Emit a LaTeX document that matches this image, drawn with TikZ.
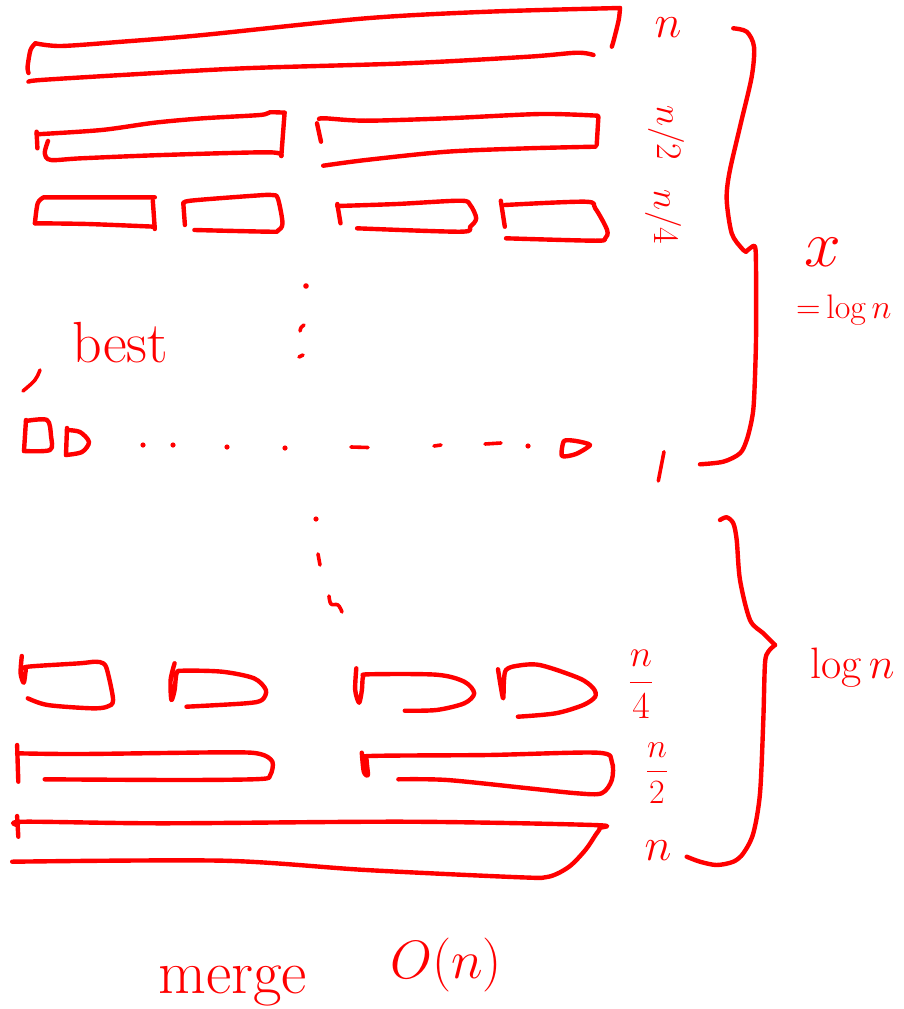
\RequirePackage{fix-cm}
\documentclass[tikz,border=0pt]{standalone}
\usepackage{amsmath}
\usepackage{fontspec}
\begin{document}
\begin{tikzpicture}[x=1pt,y=-1pt,
  ink/.style={draw=red, line width=4.4pt, line cap=round, line join=round},
  thin ink/.style={ink, line width=3.6pt},
  lbl/.style={text=red, inner sep=0pt},
  dotmark/.style={fill=red}]
\useasboundingbox (0,0) rectangle (904,1009);
\clip (0,0) rectangle (904,1009);

% ---------------- top half: splitting ----------------
% level n
\draw[ink] plot[smooth,tension=.5] coordinates {(28.5,73) (27.6,66.7) (30.5,50) (35.4,43.3)};
\draw[ink] plot[smooth,tension=.5] coordinates {(35.4,43.3) (61,46) (122,41.7) (203,35) (366,18.3) (488,11.7) (620,8)};
\draw[ink] plot[smooth,tension=.5] coordinates {(620,8) (618.7,20) (613.8,40) (611.8,46.7)};
\draw[ink] plot[smooth,tension=.5] coordinates {(593.5,55) (577,52.7) (528.5,56.7) (406.5,63.3) (244,68.3) (122,75) (40.7,80) (28.5,81.7)};

% level n/2, left
\draw[ink] (36.6,131.7) -- (37.4,148.3);
\draw[ink] plot[smooth,tension=.5] coordinates {(36.6,134.3) (101.6,130) (154.5,122.7) (203,118.3) (260,115) (270,112.3) (284.6,112.7)};
\draw[ink] (284.6,112.7) -- (281.3,156);
\draw[ink] plot[smooth,tension=.5] coordinates {(281.3,156) (268.3,152.3) (162.6,155) (81.3,158.3) (50.8,160) (44.7,153.3) (48,141)};
% level n/2, right
\draw[ink] (317,123.3) -- (321,141.7);
\draw[ink] plot[smooth,tension=.5] coordinates {(319,119) (325,118.3) (365.9,120.7) (447,118.3) (540.7,114) (597.6,115.7)};
\draw[ink] (598.4,116.7) -- (596.7,145);
\draw[ink] plot[smooth,tension=.5] coordinates {(595.5,146.7) (528.5,148.3) (447,151.7) (365.9,160) (323.2,165.7)};

% level n/4
\draw[ink] plot[smooth,tension=.5] coordinates {(34.9,223.3) (37.7,203.3) (43.7,197.3)} -- (154.8,197.3);
\draw[ink] (152.8,200.7) -- (154.8,229);
\draw[ink] plot[smooth,tension=.5] coordinates {(154.8,226.7) (87.3,224) (34.9,223.3)};

\draw[ink] (183.3,203.3) -- (184.9,225);
\draw[ink] plot[smooth,tension=.5] coordinates {(183.3,204) (190.5,200.7) (254,195.7) (271.8,195) (277.8,198.3) (282.5,223.3) (277.8,230.7) (269.8,231.7) (194.4,230)};

\draw[ink] (337.3,204) -- (340.5,223.3);
\draw[ink] plot[smooth,tension=.5] coordinates {(337.3,206) (396.8,204) (460.3,200.7) (470.2,205) (476.2,218.3) (470.2,226.7) (460.3,231.7) (357.1,228.3)};

\draw[ink] (500.8,200.7) -- (504.8,226.7);
\draw[ink] plot[smooth,tension=.5] coordinates {(504.8,205) (585.3,201.7) (595.2,208.3) (607.1,230) (605.2,238.3) (595.2,240.7) (506,238.3)};

% vertical ellipsis
\fill[dotmark] (306,286) circle (2.8);
\draw[thin ink] (300,331) .. controls (301,327) .. (304,325);
\draw[thin ink] (299,357) -- (303,355);

% "best" and the single-element row
\node[lbl, anchor=base west, font=\fontsize{58}{58}\selectfont] (best) at (72,362) {best};
\draw[thin ink] (40,370) .. controls (36,380) .. (23,391);

\draw[ink] (26,420) -- (24,451);
\draw[ink] plot[smooth,tension=.5] coordinates {(26,421) (47,420) (51,436) (50,450) (24,451)};
\draw[ink] (67,428) -- (66,455);
\draw[ink] plot[smooth,tension=.5] coordinates {(67,430) (80,432) (89,442) (82,452) (66,455)};

% horizontal ellipsis of single elements
\fill[dotmark] (143,445) circle (2.6);
\fill[dotmark] (173,445) circle (2.6);
\fill[dotmark] (227,447) circle (2.6);
\fill[dotmark] (285,448) circle (2.6);
\draw[thin ink] (351,447) -- (368,447.5);
\draw[thin ink] (434,446) -- (441,445);
\draw[thin ink] (485,444) -- (501,443);
\fill[dotmark] (528,446) circle (2.6);
\draw[ink] plot[smooth cycle,tension=.4] coordinates {(564,441) (562,456) (576,454) (590,445) (576,441)};

% brace for the splitting phase
\draw[ink] plot[smooth,tension=.5] coordinates {(733.3,28.3) (746.7,31.7) (754,46.7) (751.7,76.7) (740,126.7) (729.3,173.3) (726.7,200) (731.7,233.3) (741.7,248.3) (746,251.7)};
\draw[ink] plot[smooth,tension=.5] coordinates {(746,251.7) (750,248.3) (755,246.7) (756,266.7) (756,340) (754,400) (751.7,420) (746.7,440) (740,453.3) (723.3,461.7) (700,464.3)};
\draw[thin ink] (664,451.7) -- (658.3,481);

% labels of the splitting phase
\node[lbl, font=\fontsize{46}{46}\selectfont] (ntop) at (668,28) {$n$};
\node[lbl, rotate=-90, font=\fontsize{36}{36}\selectfont] (halftop) at (666,133) {$n/2$};
\node[lbl, rotate=-90, font=\fontsize{36}{36}\selectfont] (quartertop) at (663,217) {$n/4$};
\node[lbl, font=\fontsize{66}{66}\selectfont] (depth) at (823,252) {$x$};
\node[lbl, anchor=base west, font=\fontsize{34}{34}\selectfont] (depthval) at (796,318) {$=$\,log\,$n$};

% vertical ellipsis between the phases
\fill[dotmark] (316,519) circle (2.6);
\draw[thin ink] (318,554) -- (320,565);
\draw[thin ink] plot[smooth,tension=.6] coordinates {(329,596) (331,604) (338,605) (342,612)};

% ---------------- bottom half: merging ----------------
% level n/4
\draw[ink] plot[smooth,tension=.5] coordinates {(21.8,656) (20.6,673.3) (23.8,682.7) (25.8,670) (27.8,666.7) (79.4,663.3) (95.2,661.7) (103.2,663.3) (107.1,670) (113.1,700) (107.1,706.7) (91.3,708.3) (47.6,705) (27.8,698.3)};
\draw[ink] plot[smooth,tension=.5] coordinates {(174.6,663.3) (170.6,680) (171.4,700) (174.6,690) (176.6,673.3) (182.5,670.7) (222.2,671.7) (254,678.3) (265.9,690) (261.9,700) (246,703.3) (186.5,706.7)};
\draw[ink] plot[smooth,tension=.5] coordinates {(356.3,668.3) (355.2,690) (359.1,702.7) (361.9,690) (363.1,676.7) (369,674.3) (436.5,674.7) (464.3,681.7) (474.2,693.3) (464.3,703.3) (436.5,710) (404.8,710.7)};
\draw[ink] plot[smooth,tension=.5] coordinates {(498,669.3) (500.8,686.7) (503.2,698.3) (504,680) (506,670) (515.9,666) (539.7,665) (579.4,678.3) (593.3,688.3) (595.2,696.7) (583.3,705) (555.6,713.3) (517.9,716.7)};

% level n/2
\draw[ink] (17.1,745) -- (18.3,781.7);
\draw[ink] plot[smooth,tension=.5] coordinates {(17.1,753.3) (81.3,754) (227.6,752.3) (260.2,754) (272.4,761.7) (270.3,775) (260.2,779) (183,780) (44.7,779.3)};
\draw[ink] plot[smooth,tension=.5] coordinates {(361.8,752.7) (363.8,771.7) (367.9,775) (366.7,760) (369.9,756) (487.8,755) (597.6,752.7) (611.8,761.7) (611.8,780) (601.6,793.3) (577.2,793.3) (528.5,788.3) (447.2,780) (398.4,779.3)};

% level n
\draw[ink] (17.1,816) -- (18.3,836.7);
\draw[ink] plot[smooth,tension=.5] coordinates {(17.1,825) (24.4,821.7) (162.6,823.3) (406.5,821.7) (593.5,825) (599.6,828.3) (595.5,835) (585.4,850) (569.1,866.7) (548.8,876.7) (520.3,877.3) (365.9,870) (223.6,860.7) (12.2,861.7)};

% brace for the merging phase
\draw[ink] plot[smooth,tension=.5] coordinates {(720,520) (726.7,517.3) (733.3,523.3) (736.7,540) (740,580) (750,620) (763.3,633.3) (775,645)};
\draw[ink] plot[smooth,tension=.5] coordinates {(775,645) (768.3,651.7) (765,663.3) (763.3,720) (760,793.3) (753.3,833.3) (743.3,853.3) (733.3,861.7) (716.7,865) (700,861.7) (686.7,856.7)};

% labels of the merging phase
\node[lbl, font=\fontsize{38}{38}\selectfont] (quarterbot) at (641,684) {$\dfrac{n}{4}$};
\node[lbl, font=\fontsize{34}{34}\selectfont] (halfbot) at (657,773) {$\dfrac{n}{2}$};
\node[lbl, font=\fontsize{46}{46}\selectfont] (nbot) at (658,851) {$n$};
\node[lbl, anchor=base west, font=\fontsize{44}{44}\selectfont] (levels) at (810,678) {$\log n$};

% cost of one level
\node[lbl, anchor=base west, font=\fontsize{62}{62}\selectfont] (merge) at (158,993) {merge};
\node[lbl, anchor=base west, font=\fontsize{54}{54}\selectfont] (cost) at (390,978) {$O(n)$};
\end{tikzpicture}
\end{document}
